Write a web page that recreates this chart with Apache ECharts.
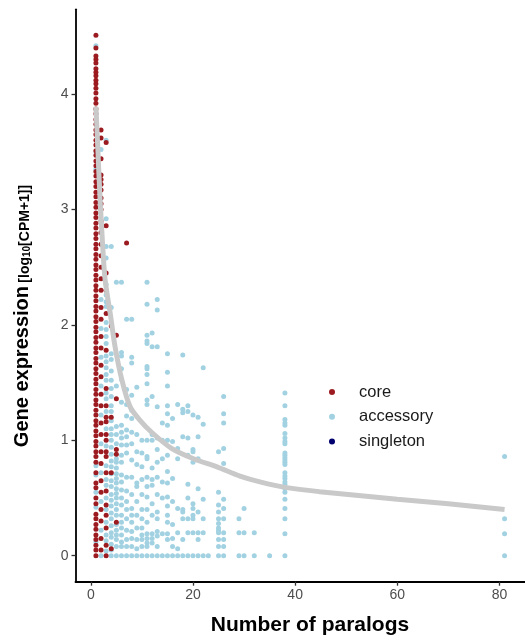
<!DOCTYPE html>
<html>
<head>
<meta charset="utf-8">
<script src="https://cdn.jsdelivr.net/npm/echarts@6/dist/echarts.min.js"></script>
<style>
  html, body { margin: 0; padding: 0; background: #fff; }
  #chart { width: 525px; height: 642px; }
</style>
</head>
<body>
<div id="chart"></div>
<script>
// tick labels
const xTicks = [0, 20, 40, 60, 80];
const yTicks = [0, 1, 2, 3, 4];

// core genes, by number of paralogs -> expression values
const coreAt1 = [0, 0.05, 0.09, 0.14, 0.18, 0.23, 0.27, 0.32, 0.36, 0.45, 0.5, 0.59, 0.63, 0.72, 0.81, 0.86, 0.9, 0.95, 0.99, 1.04, 1.08, 1.13, 1.17, 1.22, 1.26, 1.31, 1.35, 1.4, 1.44, 1.49, 1.53, 1.58, 1.62, 1.67, 1.71, 1.76, 1.8, 1.85, 1.89, 1.94, 1.98, 2.03, 2.07, 2.12, 2.16, 2.21, 2.25, 2.3, 2.34, 2.39, 2.43, 2.48, 2.52, 2.57, 2.61, 2.66, 2.7, 2.75, 2.79, 2.84, 2.88, 2.93, 2.97, 3.02, 3.06, 3.11, 3.15, 3.2, 3.24, 3.29, 3.33, 3.38, 3.42, 3.47, 3.51, 3.56, 3.6, 3.65, 3.69, 3.74, 3.78, 3.83, 3.87, 3.92, 3.96, 4.01, 4.05, 4.09, 4.12, 4.16, 4.19, 4.22, 4.27, 4.3, 4.33, 4.4, 4.51];
const coreAt2 = [0.05, 0.15, 0.3, 0.4, 0.55, 0.65, 0.8, 0.9, 1.05, 1.15, 1.3, 1.4, 1.55, 1.65, 1.8, 1.9, 2.05, 2.15, 2.3, 2.4, 2.5, 2.6, 2.7, 2.8, 2.9, 3.0, 3.05, 3.1, 3.17, 3.22, 3.26, 3.3, 3.44, 3.62, 3.69];
const coreAt3 = [0, 0.09, 0.24, 0.35, 0.44, 0.56, 0.72, 0.86, 0.9, 1.0, 1.05, 1.16, 1.2, 1.3, 1.45, 1.78, 2.1, 2.3, 2.45, 2.86, 3.58];
const coreOther = [[4, 0.06], [4, 0.72], [4, 1.2], [4, 1.99], [5, 0.29], [5, 0.88], [5, 0.92], [5, 1.36], [5, 1.91], [7, 2.71]];

// accessory genes: [number of paralogs, expression values]
const accessoryNear = [
  [1, [0.12, 0.42, 0.55, 0.7, 0.78, 3.35, 3.5, 4.42]],
  [2, [0, 0.22, 0.47, 0.72, 0.97, 1.22, 1.47, 1.72, 1.97, 2.22, 3.52]],
  [3, [0.04, 0.13, 0.18, 0.29, 0.4, 0.5, 0.61, 0.66, 0.78, 0.95, 1.1, 1.25, 1.36, 1.41, 1.52, 1.57, 1.63, 1.68, 1.73, 1.84, 1.9, 1.96, 2.02, 2.16, 2.2, 2.26, 2.35, 2.58, 2.68, 2.92, 3.6]],
  [4, [0, 0.05, 0.1, 0.16, 0.2, 0.26, 0.32, 0.37, 0.43, 0.48, 0.53, 0.6, 0.65, 0.71, 0.77, 0.82, 0.88, 0.94, 1.0, 1.05, 1.1, 1.17, 1.25, 1.3, 1.38, 1.45, 1.52, 1.6, 1.7, 1.75, 2.15, 2.68]],
  [5, [0, 0.08, 0.14, 0.18, 0.22, 0.27, 0.35, 0.4, 0.45, 0.5, 0.54, 0.58, 0.63, 0.67, 0.71, 0.76, 0.81, 0.84, 0.97, 1.05, 1.12, 1.47, 2.37]]
];
const accessoryMid = [
  [6, [0, 0.08, 0.12, 0.18, 0.24, 0.29, 0.35, 0.44, 0.5, 0.57, 0.64, 0.7, 0.81, 0.87, 0.96, 1.02, 1.07, 1.13, 1.33, 1.53, 1.62, 1.73, 1.76, 2.37]],
  [7, [0, 0.08, 0.14, 0.22, 0.32, 0.4, 0.47, 0.56, 0.68, 0.89, 0.96, 1.03, 1.09, 1.21, 1.31, 1.44, 2.05]],
  [8, [0, 0.08, 0.15, 0.21, 0.29, 0.35, 0.41, 0.53, 0.68, 0.83, 0.97, 1.07, 1.19, 1.26, 1.39, 1.67, 1.72, 2.05]],
  [9, [0, 0.06, 0.14, 0.24, 0.35, 0.47, 0.6, 0.63, 0.79, 0.9, 1.05, 1.46]],
  [10, [0, 0.08, 0.14, 0.18, 0.24, 0.32, 0.4, 0.53, 0.66, 0.77, 0.89, 1.0]],
  [11, [0, 0.08, 0.11, 0.15, 0.19, 0.29, 0.4, 0.51, 0.6, 0.68, 0.84, 0.86, 1.0, 1.31, 1.35, 1.49, 1.57, 1.62, 1.64, 1.84, 1.86, 1.91, 2.18, 2.37]],
  [12, [0, 0.11, 0.15, 0.19, 0.35, 0.45, 0.61, 0.66, 0.76, 1.0, 1.05, 1.38, 1.81, 1.93]],
  [13, [0, 0.08, 0.17, 0.21, 0.32, 0.38, 0.53, 0.68, 0.81, 0.92, 1.02, 1.29, 1.81, 2.13, 2.22]],
  [14, [0, 0.19, 0.5, 0.64, 0.84, 1.0, 1.15]],
  [15, [0, 0.14, 0.19, 0.29, 0.35, 0.43, 0.51, 0.63, 0.73, 0.87, 1.0, 1.13, 1.23, 1.3, 1.47, 1.59, 1.75]],
  [16, [0, 0.08, 0.15, 0.27, 0.47, 0.67, 0.99, 1.19]]
];
const accessoryFar = [
  [17, [0, 0.06, 0.2, 0.41, 0.84, 0.93, 1.31]],
  [18, [0, 0.14, 0.32, 0.38, 0.4, 1.03, 1.24, 1.27, 1.74]],
  [19, [0, 0.2, 0.32, 0.5, 0.62, 0.87, 1.02, 1.25, 1.3]],
  [20, [0, 0.2, 0.32, 0.35, 0.41, 0.45, 0.81, 0.9, 0.92, 1.22]],
  [21, [0, 0.14, 0.2, 0.38, 0.58, 0.84, 1.03, 1.2]],
  [22, [0, 0.2, 0.32, 0.49, 1.14, 1.63]],
  [23, [0]],
  [25, [0, 0.08, 0.14, 0.2, 0.22, 0.24, 0.28, 0.32, 0.38, 0.44, 0.55, 0.9]],
  [26, [0, 0.08, 0.14, 0.2, 0.32, 0.41, 0.49, 0.8, 0.93, 1.15, 1.23, 1.38]],
  [29, [0, 0.2, 0.32]],
  [30, [0, 0.2, 0.41]],
  [32, [0, 0.2]],
  [35, [0]],
  [38, [0, 0.19, 0.32, 0.41, 0.49, 0.55, 0.58, 0.62, 0.64, 0.67, 0.69, 0.72, 0.79, 0.81, 0.83, 0.85, 0.87, 0.89, 0.97, 0.99, 1.02, 1.06, 1.13, 1.15, 1.18, 1.3, 1.41]],
  [81, [0, 0.19, 0.32, 0.86]]
];

// singleton genes: none visible in the panel
const singleton = [];

// smoothed trend
const trendX = [1, 1.4, 1.8, 2.3, 2.8, 3.8, 4.75, 6.1, 7.7, 9.5, 11.9, 15.8, 20.1, 24.7, 29.2, 33.1, 38.3, 44.8, 60, 70, 81];
const trendY = [3.89, 3.5, 3.1, 2.7, 2.39, 2.1, 1.81, 1.52, 1.29, 1.18, 1.07, 0.93, 0.84, 0.77, 0.69, 0.64, 0.59, 0.555, 0.49, 0.45, 0.4];

const FONT = '"Liberation Sans", Arial, Helvetica, sans-serif';

function columns(cols) {
  const out = [];
  cols.forEach(function (c) {
    c[1].forEach(function (y) { out.push([c[0], y]); });
  });
  return out;
}

const coreData = []
  .concat(coreAt1.map(y => [1, y]))
  .concat(coreAt2.map(y => [2, y]))
  .concat(coreAt3.map(y => [3, y]))
  .concat(coreOther);
const accessoryData = columns(accessoryNear).concat(columns(accessoryMid)).concat(columns(accessoryFar));
const trendData = trendX.map((x, i) => [x, trendY[i]]);

var chart = echarts.init(document.getElementById('chart'), null, { renderer: 'canvas' });

var option = {
  animation: false,
  backgroundColor: '#fff',
  grid: { left: 75.5, right: 0, top: 9.3, bottom: 60.3, containLabel: false },
  xAxis: {
    type: 'value',
    min: -3,
    max: 85,
    splitLine: { show: false },
    axisLine: { onZero: false, lineStyle: { color: '#000', width: 1.8 } },
    axisTick: { customValues: xTicks, length: 4, lineStyle: { color: '#333', width: 1.3 } },
    axisLabel: { customValues: xTicks, color: '#4d4d4d', fontSize: 14, fontFamily: FONT, margin: 6 }
  },
  yAxis: {
    type: 'value',
    min: -0.225,
    max: 4.735,
    splitLine: { show: false },
    axisLine: { onZero: false, lineStyle: { color: '#000', width: 1.8 } },
    axisTick: { customValues: yTicks, length: 4, lineStyle: { color: '#333', width: 1.3 } },
    axisLabel: { customValues: yTicks, color: '#4d4d4d', fontSize: 14, fontFamily: FONT, margin: 7 }
  },
  legend: {
    orient: 'vertical',
    left: 324,
    top: 377,
    icon: 'circle',
    itemWidth: 44,
    itemHeight: 6,
    itemGap: 4.7,
    data: ['core', 'accessory', 'singleton'],
    textStyle: { fontSize: 16.5, fontFamily: FONT, color: '#1a1a1a', lineHeight: 20 }
  },
  graphic: [
    {
      type: 'text',
      x: 310, y: 625,
      style: {
        text: 'Number of paralogs',
        font: 'bold 21px ' + FONT,
        fill: '#000',
        align: 'center',
        verticalAlign: 'middle'
      }
    },
    {
      type: 'text',
      x: 20, y: 316,
      rotation: Math.PI / 2,
      style: {
        text: '{a|Gene expression} {b|[log}{s|10}{b|[CPM+1]]}',
        align: 'center',
        verticalAlign: 'middle',
        rich: {
          a: { font: 'bold 20px ' + FONT, fill: '#000', verticalAlign: 'bottom', lineHeight: 24 },
          b: { font: 'bold 14px ' + FONT, fill: '#000', verticalAlign: 'bottom', lineHeight: 20 },
          s: { font: 'bold 10px ' + FONT, fill: '#000', verticalAlign: 'bottom', lineHeight: 12 }
        }
      }
    }
  ],
  series: [
    {
      name: 'accessory',
      type: 'scatter',
      symbol: 'circle',
      symbolSize: 5,
      itemStyle: { color: '#a2d2e2', opacity: 1 },
      z: 2,
      data: accessoryData
    },
    {
      name: 'core',
      type: 'scatter',
      symbol: 'circle',
      symbolSize: 5,
      itemStyle: { color: '#9b1b20', opacity: 1 },
      z: 3,
      data: coreData
    },
    {
      name: 'singleton',
      type: 'scatter',
      symbol: 'circle',
      symbolSize: 5,
      itemStyle: { color: '#00006e', opacity: 1 },
      z: 3,
      data: singleton
    },
    {
      name: 'trend',
      type: 'line',
      smooth: 0.3,
      showSymbol: false,
      silent: true,
      z: 4,
      lineStyle: { color: '#c9c9c9', width: 5 },
      data: trendData
    }
  ]
};

chart.setOption(option);
</script>
</body>
</html>
